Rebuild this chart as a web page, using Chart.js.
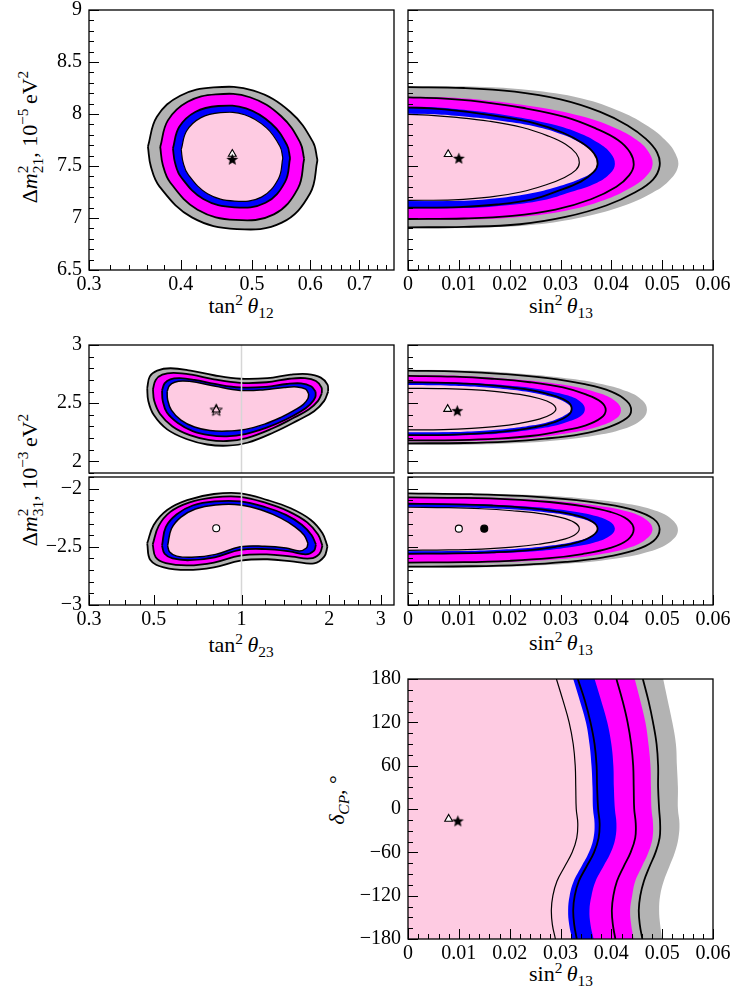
<!DOCTYPE html>
<html>
<head>
<meta charset="utf-8">
<script src="https://cdn.jsdelivr.net/npm/chart.js"></script>
<style>
body { margin: 0; background: #fff; }
#wrap { position: relative; width: 737px; height: 995px; overflow: hidden; background: #fff;
        font-family: 'Liberation Serif', 'Times New Roman', serif; color: #000; }
canvas { position: absolute; }
.t { position: absolute; font-size: 22px; line-height: 1; white-space: nowrap; transform: translate(-50%, -50%); }
.r { transform: translate(-50%, -50%) rotate(-90deg); }
.t sup, .t sub { font-size: 0.7em; line-height: 0; position: relative; vertical-align: baseline; }
.t sup { top: -0.55em; }
.t sub { top: 0.35em; }
.ss { display: inline-flex; flex-direction: column; font-size: 0.7em; line-height: 0.95; vertical-align: 0.55em; }
</style>
</head>
<body>
<div id="wrap">
  <div class="t" style="left:241px;top:306px">tan<sup>2</sup>&thinsp;<i>θ</i><sub>12</sub></div>
  <div class="t" style="left:561px;top:306px">sin<sup>2</sup>&thinsp;<i>θ</i><sub>13</sub></div>
  <div class="t" style="left:241px;top:645px">tan<sup>2</sup>&thinsp;<i>θ</i><sub>23</sub></div>
  <div class="t" style="left:561px;top:643px">sin<sup>2</sup>&thinsp;<i>θ</i><sub>13</sub></div>
  <div class="t" style="left:561px;top:974px">sin<sup>2</sup>&thinsp;<i>θ</i><sub>13</sub></div>
  <div class="t r" style="left:31px;top:137px">Δ<i>m</i><span class="ss"><span>2</span><span>21</span></span>, 10<sup>−5</sup>&thinsp;eV<sup>2</sup></div>
  <div class="t r" style="left:31px;top:480px">Δ<i>m</i><span class="ss"><span>2</span><span>31</span></span>, 10<sup>−3</sup>&thinsp;eV<sup>2</sup></div>
  <div class="t r" style="left:337px;top:800px"><i>δ</i><sub><i>CP</i></sub>, °</div>
</div>
<script>
// ---- tick values ----
var tan12Major = [0.3, 0.4, 0.5, 0.6, 0.7];
var tan12Minor = [0.32, 0.34, 0.36, 0.38, 0.42, 0.44, 0.46, 0.48, 0.52, 0.54, 0.56, 0.58,
                  0.62, 0.64, 0.66, 0.68, 0.72, 0.74, 0.76];
var tan23Major = [0.3, 0.5, 1, 2, 3];
var tan23Minor = [0.35, 0.4, 0.45, 0.6, 0.7, 0.8, 0.9, 1.2, 1.4, 1.6, 1.8, 2.25, 2.5, 2.75];
var sin13Major = [0, 0.01, 0.02, 0.03, 0.04, 0.05, 0.06];
var dm21Major = [6.5, 7, 7.5, 8, 8.5, 9];
var dm31nMajor = [2, 2.5, 3];
var dm31iMajor = [-3, -2.5, -2];
var dcpMajor = [-180, -120, -60, 0, 60, 120, 180];

// ---- tan^2 theta12 vs dm21 : closed contours [x, y] ----
var aGray = [[0.3608,7.686],[0.3711,7.974],[0.3992,8.176],[0.4431,8.256],[0.5023,8.224],[0.5633,8.022],[0.6048,7.734],
             [0.6137,7.558],[0.5998,7.238],[0.5488,6.955],[0.4768,6.894],[0.4141,7.006],[0.3742,7.302],[0.3642,7.494]];
var aMagenta = [[0.3750,7.683],[0.3841,7.939],[0.4086,8.118],[0.4465,8.189],[0.4967,8.161],[0.5474,7.981],[0.5813,7.726],
                [0.5886,7.569],[0.5773,7.285],[0.5354,7.035],[0.4750,6.981],[0.4215,7.080],[0.3869,7.342],[0.3780,7.513]];
var aBlue = [[0.3902,7.669],[0.3979,7.875],[0.4184,8.020],[0.4498,8.077],[0.4906,8.054],[0.5310,7.909],[0.5577,7.703],
             [0.5633,7.577],[0.5545,7.348],[0.5216,7.146],[0.4730,7.103],[0.4291,7.183],[0.4002,7.394],[0.3928,7.531]];
var aPink = [[0.4005,7.657],[0.4073,7.837],[0.4255,7.963],[0.4530,8.013],[0.4884,7.993],[0.5231,7.867],[0.5458,7.687],
             [0.5506,7.577],[0.5431,7.378],[0.5150,7.201],[0.4732,7.163],[0.4349,7.234],[0.4094,7.417],[0.4028,7.537]];

// ---- sin^2 theta13 vs dm21 : x(y) curves [x, y] ----
var bGray = [[0,6.90],[0.012,6.905],[0.0237,6.93],[0.0335,7.00],[0.042,7.11],[0.048,7.24],[0.0512,7.35],[0.0531,7.49],
             [0.0526,7.62],[0.0506,7.75],[0.0473,7.88],[0.042,8.02],[0.0342,8.15],[0.0237,8.23],[0.0138,8.262],[0,8.27]];
var bMagenta = [[0,6.98],[0.012,6.985],[0.022,7.01],[0.031,7.07],[0.0385,7.17],[0.0438,7.29],[0.0468,7.40],[0.0481,7.51],
                [0.0474,7.63],[0.045,7.75],[0.0405,7.87],[0.034,7.98],[0.025,8.07],[0.0155,8.13],[0.007,8.16],[0,8.168]];
var bBlue = [[0,7.09],[0.011,7.095],[0.019,7.12],[0.0265,7.17],[0.032,7.25],[0.0372,7.34],[0.0398,7.43],[0.0407,7.52],
             [0.0399,7.62],[0.0375,7.72],[0.0335,7.82],[0.0275,7.91],[0.019,7.99],[0.011,8.04],[0.005,8.065],[0,8.072]];
var bPink = [[0,7.16],[0.010,7.165],[0.0175,7.19],[0.0245,7.24],[0.030,7.31],[0.034,7.38],[0.0365,7.45],[0.0373,7.53],
             [0.0366,7.62],[0.0343,7.71],[0.0305,7.80],[0.025,7.88],[0.0175,7.94],[0.010,7.98],[0.0045,8.0],[0,8.006]];
var bLine4 = [[0,6.91],[0.011,6.915],[0.022,6.94],[0.031,7.01],[0.039,7.12],[0.0448,7.25],[0.0482,7.37],[0.0495,7.50],
              [0.049,7.63],[0.0468,7.76],[0.0432,7.89],[0.0378,8.02],[0.030,8.14],[0.021,8.215],[0.011,8.25],[0,8.258]];
var bLine3 = [[0,6.99],[0.011,6.995],[0.0205,7.02],[0.029,7.08],[0.036,7.18],[0.041,7.30],[0.0435,7.41],[0.0444,7.51],
              [0.0437,7.63],[0.0413,7.75],[0.037,7.86],[0.031,7.97],[0.0225,8.06],[0.014,8.12],[0.0065,8.15],[0,8.16]];
var bLine2 = [[0,7.10],[0.010,7.105],[0.0175,7.13],[0.0245,7.18],[0.0295,7.26],[0.034,7.35],[0.0365,7.44],[0.0373,7.52],
              [0.0366,7.62],[0.0343,7.72],[0.0305,7.82],[0.025,7.91],[0.0175,7.98],[0.010,8.03],[0.0045,8.055],[0,8.062]];
var bLine1 = [[0,7.17],[0.009,7.175],[0.016,7.20],[0.0222,7.25],[0.0272,7.32],[0.0308,7.39],[0.033,7.46],[0.0337,7.53],
              [0.0331,7.62],[0.031,7.71],[0.0275,7.79],[0.0225,7.87],[0.016,7.93],[0.009,7.97],[0.004,7.99],[0,7.996]];

// ---- tan^2 theta23 vs dm31 (normal) : closed contours ----
var cGray = [[0.475,2.63],[0.485,2.73],[0.514,2.78],[0.571,2.80],[0.669,2.78],[0.804,2.74],[0.993,2.71],[1.227,2.715],
             [1.475,2.745],[1.683,2.75],[1.870,2.72],[1.972,2.66],[1.982,2.60],[1.921,2.52],[1.774,2.43],[1.555,2.35],
             [1.293,2.25],[1.047,2.16],[0.894,2.135],[0.763,2.145],[0.651,2.19],[0.556,2.275],[0.500,2.40],[0.479,2.52]];
var cMagenta = [[0.497,2.62],[0.508,2.70],[0.535,2.745],[0.585,2.76],[0.675,2.745],[0.805,2.705],[0.99,2.675],[1.22,2.68],
                [1.46,2.71],[1.65,2.715],[1.80,2.69],[1.88,2.635],[1.885,2.585],[1.83,2.52],[1.70,2.445],[1.50,2.37],
                [1.27,2.28],[1.04,2.20],[0.89,2.175],[0.77,2.185],[0.665,2.225],[0.58,2.30],[0.525,2.41],[0.502,2.52]];
var cBlue = [[0.534,2.61],[0.545,2.67],[0.57,2.705],[0.615,2.715],[0.69,2.70],[0.81,2.665],[0.99,2.635],[1.21,2.64],
             [1.43,2.665],[1.60,2.67],[1.73,2.645],[1.795,2.60],[1.79,2.55],[1.72,2.49],[1.60,2.43],[1.42,2.36],
             [1.22,2.29],[1.03,2.235],[0.89,2.215],[0.775,2.225],[0.68,2.26],[0.605,2.33],[0.555,2.42],[0.537,2.52]];
var cPink = [[0.556,2.60],[0.566,2.65],[0.59,2.68],[0.63,2.69],[0.70,2.68],[0.815,2.645],[0.99,2.61],[1.20,2.615],
             [1.40,2.635],[1.55,2.64],[1.66,2.62],[1.70,2.58],[1.69,2.54],[1.63,2.49],[1.52,2.44],[1.37,2.38],
             [1.20,2.32],[1.03,2.275],[0.89,2.26],[0.78,2.265],[0.69,2.295],[0.62,2.355],[0.575,2.44],[0.558,2.53]];

// ---- sin^2 theta13 vs dm31 (normal) ----
var dGray = [[0,2.14],[0.012,2.143],[0.021,2.155],[0.029,2.18],[0.0365,2.22],[0.0425,2.28],[0.046,2.36],[0.047,2.44],
             [0.0462,2.52],[0.0432,2.60],[0.0375,2.67],[0.030,2.72],[0.021,2.757],[0.012,2.78],[0,2.79]];
var dMagenta = [[0,2.17],[0.011,2.173],[0.019,2.185],[0.026,2.21],[0.0325,2.25],[0.0375,2.30],[0.041,2.37],[0.0419,2.44],
                [0.041,2.51],[0.038,2.58],[0.033,2.64],[0.026,2.685],[0.018,2.715],[0.010,2.735],[0,2.742]];
var dBlue = [[0,2.218],[0.009,2.221],[0.0155,2.232],[0.0215,2.255],[0.027,2.29],[0.031,2.335],[0.034,2.39],[0.0348,2.45],
             [0.034,2.51],[0.0315,2.565],[0.027,2.61],[0.0215,2.645],[0.015,2.668],[0.008,2.68],[0,2.685]];
var dPink = [[0,2.247],[0.008,2.25],[0.014,2.26],[0.0195,2.28],[0.0245,2.31],[0.0285,2.35],[0.031,2.40],[0.0322,2.45],
             [0.031,2.505],[0.0285,2.55],[0.0245,2.59],[0.0195,2.62],[0.014,2.64],[0.0075,2.652],[0,2.656]];
var dLine4 = [[0,2.155],[0.011,2.158],[0.0195,2.17],[0.027,2.195],[0.034,2.235],[0.0395,2.295],[0.043,2.37],[0.0439,2.44],
              [0.043,2.52],[0.040,2.60],[0.0345,2.665],[0.0275,2.715],[0.019,2.75],[0.010,2.772],[0,2.78]];
var dLine3 = [[0,2.18],[0.010,2.183],[0.0175,2.195],[0.0245,2.22],[0.030,2.26],[0.035,2.31],[0.038,2.375],[0.0389,2.44],
              [0.038,2.51],[0.035,2.575],[0.0305,2.635],[0.024,2.68],[0.0165,2.71],[0.009,2.728],[0,2.735]];
var dLine2 = [[0,2.225],[0.008,2.228],[0.0145,2.24],[0.020,2.262],[0.025,2.295],[0.029,2.34],[0.0315,2.395],[0.0322,2.45],
              [0.0315,2.51],[0.029,2.56],[0.025,2.605],[0.020,2.638],[0.014,2.662],[0.0075,2.675],[0,2.68]];
var dLine1 = [[0,2.27],[0.007,2.273],[0.0125,2.283],[0.0175,2.30],[0.022,2.327],[0.0258,2.363],[0.0282,2.405],[0.0291,2.45],
              [0.0282,2.50],[0.0258,2.54],[0.022,2.575],[0.0175,2.60],[0.0125,2.617],[0.007,2.625],[0,2.628]];

// ---- tan^2 theta23 vs dm31 (inverted) : closed contours ----
var eGray = [[0.475,-2.47],[0.500,-2.312],[0.556,-2.183],[0.651,-2.098],[0.804,-2.046],[0.993,-2.04],[1.227,-2.098],
             [1.475,-2.169],[1.729,-2.269],[1.895,-2.384],[1.972,-2.498],[1.921,-2.584],[1.774,-2.642],[1.514,-2.627],
             [1.227,-2.607],[0.993,-2.619],[0.804,-2.676],[0.651,-2.699],[0.5415,-2.676],[0.487,-2.613]];
var eMagenta = [[0.496,-2.48],[0.52,-2.32],[0.57,-2.20],[0.66,-2.12],[0.805,-2.075],[0.99,-2.07],[1.22,-2.125],
                [1.45,-2.195],[1.68,-2.29],[1.83,-2.395],[1.895,-2.49],[1.85,-2.56],[1.72,-2.60],[1.49,-2.585],
                [1.22,-2.565],[0.99,-2.575],[0.805,-2.635],[0.655,-2.66],[0.55,-2.64],[0.508,-2.59]];
var eBlue = [[0.534,-2.49],[0.55,-2.33],[0.60,-2.22],[0.68,-2.145],[0.81,-2.11],[0.99,-2.11],[1.21,-2.16],
             [1.42,-2.225],[1.61,-2.31],[1.74,-2.40],[1.80,-2.48],[1.77,-2.535],[1.66,-2.565],[1.46,-2.54],
             [1.21,-2.52],[0.99,-2.527],[0.81,-2.59],[0.665,-2.615],[0.58,-2.60],[0.545,-2.56]];
var ePink = [[0.558,-2.49],[0.575,-2.345],[0.62,-2.245],[0.695,-2.175],[0.815,-2.14],[0.99,-2.14],[1.19,-2.19],
             [1.37,-2.255],[1.53,-2.33],[1.64,-2.40],[1.69,-2.47],[1.67,-2.51],[1.58,-2.535],[1.42,-2.51],
             [1.20,-2.495],[0.99,-2.50],[0.815,-2.565],[0.675,-2.59],[0.60,-2.58],[0.567,-2.545]];

// ---- sin^2 theta13 vs dm31 (inverted) ----
var fGray = [[0,-2.68],[0.0135,-2.677],[0.024,-2.665],[0.033,-2.64],[0.041,-2.60],[0.0475,-2.54],[0.0515,-2.46],[0.0531,-2.36],
             [0.0518,-2.26],[0.048,-2.18],[0.0415,-2.12],[0.0335,-2.08],[0.0245,-2.055],[0.0135,-2.042],[0,-2.035]];
var fMagenta = [[0,-2.64],[0.012,-2.637],[0.0215,-2.626],[0.030,-2.605],[0.037,-2.57],[0.043,-2.515],[0.0467,-2.44],[0.0481,-2.35],
                [0.0468,-2.265],[0.043,-2.195],[0.037,-2.145],[0.030,-2.11],[0.0215,-2.088],[0.012,-2.075],[0,-2.07]];
var fBlue = [[0,-2.565],[0.010,-2.562],[0.018,-2.553],[0.0255,-2.535],[0.0315,-2.505],[0.0365,-2.465],[0.0396,-2.41],[0.0407,-2.345],
             [0.0396,-2.28],[0.0365,-2.23],[0.0315,-2.19],[0.0255,-2.16],[0.018,-2.14],[0.010,-2.13],[0,-2.125]];
var fPink = [[0,-2.54],[0.009,-2.537],[0.016,-2.529],[0.0228,-2.513],[0.0285,-2.487],[0.033,-2.452],[0.0362,-2.405],[0.0373,-2.345],
             [0.0362,-2.29],[0.033,-2.245],[0.0285,-2.21],[0.0228,-2.185],[0.016,-2.168],[0.009,-2.159],[0,-2.155]];
var fLine4 = [[0,-2.67],[0.0125,-2.667],[0.0225,-2.655],[0.031,-2.63],[0.0385,-2.59],[0.0445,-2.53],[0.0483,-2.45],[0.0495,-2.35],
              [0.0483,-2.26],[0.0445,-2.185],[0.0385,-2.13],[0.031,-2.09],[0.0225,-2.063],[0.0125,-2.048],[0,-2.04]];
var fLine3 = [[0,-2.635],[0.011,-2.632],[0.020,-2.62],[0.0278,-2.598],[0.0343,-2.562],[0.0398,-2.51],[0.0432,-2.44],[0.0444,-2.35],
              [0.0432,-2.265],[0.0398,-2.2],[0.0343,-2.15],[0.0278,-2.115],[0.020,-2.092],[0.011,-2.08],[0,-2.075]];
var fLine2 = [[0,-2.56],[0.0095,-2.557],[0.0165,-2.548],[0.0235,-2.53],[0.029,-2.5],[0.0335,-2.46],[0.0363,-2.405],[0.0373,-2.345],
              [0.0363,-2.285],[0.0335,-2.235],[0.029,-2.195],[0.0235,-2.165],[0.0165,-2.145],[0.0095,-2.135],[0,-2.13]];
var fLine1 = [[0,-2.53],[0.008,-2.527],[0.0145,-2.519],[0.0205,-2.503],[0.0257,-2.478],[0.0298,-2.445],[0.0327,-2.4],[0.0337,-2.345],
              [0.0327,-2.29],[0.0298,-2.245],[0.0257,-2.212],[0.0205,-2.19],[0.0145,-2.173],[0.008,-2.164],[0,-2.16]];

// ---- sin^2 theta13 vs delta_CP : x at each delta ----
var gDelta   = [180, 150, 120, 90, 60, 30, 0, -20, -40, -60, -80, -100, -120, -140, -160, -180];
var gPink    = [0.0325,0.0338,0.0350,0.0357,0.0361,0.0363,0.0364,0.0367,0.0365,0.0356,0.0341,0.0326,0.0318,0.0315,0.0317,0.0323];
var gBlue    = [0.0367,0.0380,0.0392,0.0400,0.0404,0.0405,0.0407,0.0410,0.0408,0.0399,0.0384,0.0369,0.0361,0.0357,0.0359,0.0365];
var gMagenta = [0.0446,0.0457,0.0467,0.0473,0.0477,0.0478,0.0479,0.0482,0.0481,0.0473,0.0460,0.0447,0.0441,0.0437,0.0439,0.0444];
var gGray    = [0.0502,0.0511,0.0520,0.0527,0.0529,0.0531,0.0531,0.0534,0.0532,0.0525,0.0514,0.0503,0.0496,0.0494,0.0496,0.0500];
var gLine1   = [0.0292,0.0305,0.0317,0.0325,0.0329,0.0330,0.0331,0.0334,0.0332,0.0323,0.0308,0.0293,0.0285,0.0282,0.0284,0.0290];
var gLine2   = [0.0334,0.0348,0.0359,0.0367,0.0371,0.0372,0.0374,0.0377,0.0375,0.0366,0.0351,0.0336,0.0328,0.0325,0.0327,0.0332];
var gLine3   = [0.0410,0.0422,0.0432,0.0439,0.0443,0.0444,0.0445,0.0448,0.0447,0.0438,0.0424,0.0411,0.0404,0.0401,0.0403,0.0408];
var gLine4   = [0.0462,0.0473,0.0482,0.0489,0.0492,0.0492,0.0494,0.0496,0.0495,0.0487,0.0475,0.0464,0.0457,0.0454,0.0456,0.0461];

// best fit points
var bestA = {tri: [0.470, 7.615], star: [0.470, 7.564]};
var bestB = {tri: [0.0079, 7.613], star: [0.0100, 7.574]};
var bestC = [0.819, 2.443];
var bestD = {tri: [0.0078, 2.449], star: [0.0097, 2.435]};
var bestE = [0.819, -2.34];
var bestF = {open: [0.0100, -2.344], full: [0.0150, -2.344]};
var bestG = {tri: [0.0080, -13.8], star: [0.0098, -16.6]};

var warna = {gray: '#b3b3b3', magenta: '#ff00ff', blue: '#0000ff', pink: '#fecbe2'};

Chart.defaults.font.family = "'Liberation Serif', 'Times New Roman', serif";
Chart.defaults.font.size = 20;
Chart.defaults.color = '#000';

var PADL = 89, PADT = 20, PADR = 24, PADB = 45;

function range(a, b, d) {
	var out = [];
	var n = Math.round((b - a) / d);
	for (var i = 0; i <= n; i++) out.push(+(a + i * d).toFixed(4));
	return out;
}
function minorOf(a, b, d, major) {
	return range(a, b, d).filter(function (v) { return major.indexOf(v) < 0; });
}
function fmt(v) {
	return String(v).replace('-', '\u2212');
}
function fmt13(v) {
	return v === 0 ? '0' : v.toFixed(2);
}

function axis(type, min, max, major, minor, f, show, isX) {
	var list = major.map(function (v) { return {value: v, big: true, lab: f(v)}; })
		.concat(minor.map(function (v) { return {value: v, big: false, lab: ''}; }));
	list.sort(function (p, q) { return p.value - q.value; });
	return {
		type: type, min: min, max: max, bounds: 'data',
		grid: {display: false, drawTicks: false},
		border: {display: false},
		ticks: {
			display: show, autoSkip: false, maxRotation: 0, minRotation: 0,
			padding: isX ? 3 : 7, color: '#000', font: {size: 20},
			callback: function (v, i, t) { return (t[i] && t[i].lab) || ''; }
		},
		afterBuildTicks: function (s) {
			s.ticks = list.map(function (o) { return {value: o.value, big: o.big, lab: o.lab}; });
		},
		afterFit: function (s) {
			if (isX) s.height = PADB; else s.width = PADL;
		}
	};
}

// frame and inward ticks
var innerTicks = {
	id: 'innerTicks',
	afterDatasetsDraw: function (chart, args, opts) {
		var ctx = chart.ctx, a = chart.chartArea;
		ctx.save();
		ctx.strokeStyle = '#000';
		ctx.lineWidth = 1;
		ctx.beginPath();
		if (opts.x) {
			chart.scales.x.ticks.forEach(function (t) {
				var p = Math.round(chart.scales.x.getPixelForValue(t.value)) + 0.5;
				ctx.moveTo(p, a.bottom);
				ctx.lineTo(p, a.bottom - (t.big ? 10 : 5));
			});
		}
		if (opts.y) {
			chart.scales.y.ticks.forEach(function (t) {
				var p = Math.round(chart.scales.y.getPixelForValue(t.value)) + 0.5;
				ctx.moveTo(a.left, p);
				ctx.lineTo(a.left + (t.big ? 10 : 5), p);
			});
		}
		ctx.stroke();
		ctx.lineWidth = 1.3;
		ctx.strokeRect(a.left, a.top, a.right - a.left, a.bottom - a.top);
		ctx.restore();
	}
};

function toPts(arr) {
	return arr.map(function (p) { return {x: p[0], y: p[1]}; });
}

// split a closed contour into two chains that both run left to right
function splitLoop(arr) {
	var iL = 0, iR = 0, n = arr.length, up = [], lo = [], i;
	arr.forEach(function (p, k) {
		if (p[0] < arr[iL][0]) iL = k;
		if (p[0] > arr[iR][0]) iR = k;
	});
	for (i = iL; ; i = (i + 1) % n) { up.push(arr[i]); if (i === iR) break; }
	for (i = iR; ; i = (i + 1) % n) { lo.push(arr[i]); if (i === iL) break; }
	lo.reverse();
	return [toPts(lo), toPts(up)];
}

function loopSets(list) {
	var ds = [];
	list.forEach(function (c) {
		var parts = splitLoop(c[0]);
		var base = {borderColor: '#000', borderWidth: c[3], pointRadius: 0, pointHitRadius: 0, tension: 0.4, order: c[2]};
		ds.push(Object.assign({data: parts[0], fill: false}, base));
		ds.push(Object.assign({data: parts[1], fill: '-1', backgroundColor: c[1]}, base));
	});
	return ds;
}

function bandSet(data, color, order) {
	return {data: data, fill: 'origin', backgroundColor: color, borderColor: 'rgba(0,0,0,0)', borderWidth: 0,
		pointRadius: 0, pointHitRadius: 0, tension: 0.4, order: order};
}
function lineSet(data, w) {
	return {data: data, fill: false, borderColor: '#000', borderWidth: w,
		pointRadius: 0, pointHitRadius: 0, tension: 0.4, order: 5};
}

function starImg(filled) {
	var c = document.createElement('canvas');
	c.width = 15; c.height = 15;
	var g = c.getContext('2d');
	g.beginPath();
	for (var k = 0; k < 10; k++) {
		var r = k % 2 ? 2.7 : 6.3;
		var an = -Math.PI / 2 + k * Math.PI / 5;
		g.lineTo(7.5 + r * Math.cos(an), 8 + r * Math.sin(an));
	}
	g.closePath();
	if (filled) {
		g.fillStyle = '#000';
		g.fill();
	} else {
		g.strokeStyle = '#000';
		g.lineWidth = 1;
		g.stroke();
	}
	return c;
}
var starFull = starImg(true);
var starOpen = starImg(false);

function mark(p, style, r, bg, order) {
	return {data: [{x: p[0], y: p[1]}], showLine: false, pointStyle: style, pointRadius: r,
		pointBackgroundColor: bg, pointBorderColor: '#000', pointBorderWidth: 1.1, order: order};
}

function makeChart(box, idx, xs, ys, ticksOn, datasets) {
	var cv = document.createElement('canvas');
	var w = box[2] - box[0] + PADL + PADR;
	var h = box[3] - box[1] + PADT + PADB;
	cv.width = w; cv.height = h;
	cv.style.left = (box[0] - PADL) + 'px';
	cv.style.top = (box[1] - PADT) + 'px';
	cv.style.width = w + 'px';
	cv.style.height = h + 'px';
	document.getElementById('wrap').appendChild(cv);
	return new Chart(cv, {
		type: 'line',
		data: {datasets: datasets},
		options: {
			responsive: false, animation: false, devicePixelRatio: 1, indexAxis: idx,
			layout: {padding: {left: 0, top: PADT, right: PADR, bottom: 0}},
			scales: {x: xs, y: ys},
			plugins: {legend: {display: false}, tooltip: {enabled: false}, innerTicks: ticksOn}
		},
		plugins: [innerTicks]
	});
}

var dm21Minor = minorOf(6.5, 9, 0.1, dm21Major);
var sin13Minor = minorOf(0, 0.06, 0.002, sin13Major);
var dm31nMinor = minorOf(1.9, 3, 0.1, dm31nMajor);
var dm31iMinor = minorOf(-3, -1.9, 0.1, dm31iMajor);
var dcpMinor = minorOf(-180, 180, 15, dcpMajor);

// top left
makeChart([89, 10, 394, 270], 'x',
	axis('logarithmic', 0.3, 0.78, tan12Major, tan12Minor, fmt, true, true),
	axis('linear', 6.5, 9, dm21Major, dm21Minor, fmt, true, false),
	{x: true, y: true},
	loopSets([[aGray, warna.gray, 40, 1.8], [aMagenta, warna.magenta, 30, 1.8],
	          [aBlue, warna.blue, 20, 1.8], [aPink, warna.pink, 10, 1.2]])
	.concat([mark(bestA.tri, 'triangle', 4.5, '#fff', 1), mark(bestA.star, starFull, 5, '#000', 0)]));

// top right
makeChart([408, 10, 713, 270], 'y',
	axis('linear', 0, 0.06, sin13Major, sin13Minor, fmt13, true, true),
	axis('linear', 6.5, 9, dm21Major, dm21Minor, fmt, false, false),
	{x: true, y: true},
	[bandSet(toPts(bGray), warna.gray, 40), bandSet(toPts(bMagenta), warna.magenta, 30),
	 bandSet(toPts(bBlue), warna.blue, 20), bandSet(toPts(bPink), warna.pink, 10),
	 lineSet(toPts(bLine4), 1.8), lineSet(toPts(bLine3), 1.8), lineSet(toPts(bLine2), 1.8), lineSet(toPts(bLine1), 1.2),
	 mark(bestB.tri, 'triangle', 4.5, '#fff', 1), mark(bestB.star, starFull, 5, '#000', 0)]);

// middle row, normal hierarchy
var unitLineN = {data: [{x: 1, y: 1.9}, {x: 1, y: 3}], borderColor: '#d6d6d6', borderWidth: 1.5,
	pointRadius: 0, fill: false, order: 3};
makeChart([89, 345, 394, 473], 'x',
	axis('logarithmic', 0.3, 1 / 0.3, tan23Major, tan23Minor, fmt, false, true),
	axis('linear', 1.9, 3, dm31nMajor, dm31nMinor, fmt, true, false),
	{x: false, y: true},
	loopSets([[cGray, warna.gray, 40, 1.8], [cMagenta, warna.magenta, 30, 1.8],
	          [cBlue, warna.blue, 20, 1.8], [cPink, warna.pink, 10, 1.5]])
	.concat([unitLineN, mark(bestC, 'triangle', 4.5, 'rgba(0,0,0,0)', 1), mark(bestC, starOpen, 5, '#fff', 0)]));

makeChart([408, 345, 713, 473], 'y',
	axis('linear', 0, 0.06, sin13Major, sin13Minor, fmt13, false, true),
	axis('linear', 1.9, 3, dm31nMajor, dm31nMinor, fmt, false, false),
	{x: false, y: true},
	[bandSet(toPts(dGray), warna.gray, 40), bandSet(toPts(dMagenta), warna.magenta, 30),
	 bandSet(toPts(dBlue), warna.blue, 20), bandSet(toPts(dPink), warna.pink, 10),
	 lineSet(toPts(dLine4), 1.8), lineSet(toPts(dLine3), 1.8), lineSet(toPts(dLine2), 1.8), lineSet(toPts(dLine1), 1.2),
	 mark(bestD.tri, 'triangle', 4.5, '#fff', 1), mark(bestD.star, starFull, 5, '#000', 0)]);

// middle row, inverted hierarchy
var unitLineI = {data: [{x: 1, y: -3}, {x: 1, y: -1.9}], borderColor: '#d6d6d6', borderWidth: 1.5,
	pointRadius: 0, fill: false, order: 3};
makeChart([89, 477, 394, 605], 'x',
	axis('logarithmic', 0.3, 1 / 0.3, tan23Major, tan23Minor, fmt, true, true),
	axis('linear', -3, -1.9, dm31iMajor, dm31iMinor, fmt, true, false),
	{x: true, y: true},
	loopSets([[eGray, warna.gray, 40, 1.8], [eMagenta, warna.magenta, 30, 1.8],
	          [eBlue, warna.blue, 20, 1.8], [ePink, warna.pink, 10, 1.5]])
	.concat([unitLineI, mark(bestE, 'circle', 3.5, '#fff', 0)]));

makeChart([408, 477, 713, 605], 'y',
	axis('linear', 0, 0.06, sin13Major, sin13Minor, fmt13, true, true),
	axis('linear', -3, -1.9, dm31iMajor, dm31iMinor, fmt, false, false),
	{x: true, y: true},
	[bandSet(toPts(fGray), warna.gray, 40), bandSet(toPts(fMagenta), warna.magenta, 30),
	 bandSet(toPts(fBlue), warna.blue, 20), bandSet(toPts(fPink), warna.pink, 10),
	 lineSet(toPts(fLine4), 1.8), lineSet(toPts(fLine3), 1.8), lineSet(toPts(fLine2), 1.8), lineSet(toPts(fLine1), 1.2),
	 mark(bestF.open, 'circle', 3.5, '#fff', 0), mark(bestF.full, 'circle', 3.5, '#000', 0)]);

// bottom: delta_CP
function gPts(xs) {
	return gDelta.map(function (d, i) { return {x: xs[i], y: d}; });
}
makeChart([408, 679, 713, 939], 'y',
	axis('linear', 0, 0.06, sin13Major, sin13Minor, fmt13, true, true),
	axis('linear', -180, 180, dcpMajor, dcpMinor, fmt, true, false),
	{x: true, y: true},
	[bandSet(gPts(gGray), warna.gray, 40), bandSet(gPts(gMagenta), warna.magenta, 30),
	 bandSet(gPts(gBlue), warna.blue, 20), bandSet(gPts(gPink), warna.pink, 10),
	 lineSet(gPts(gLine4), 1.8), lineSet(gPts(gLine3), 1.8), lineSet(gPts(gLine2), 1.8), lineSet(gPts(gLine1), 1.2),
	 mark(bestG.tri, 'triangle', 4.5, '#fff', 1), mark(bestG.star, starFull, 5, '#000', 0)]);
</script>
</body>
</html>
